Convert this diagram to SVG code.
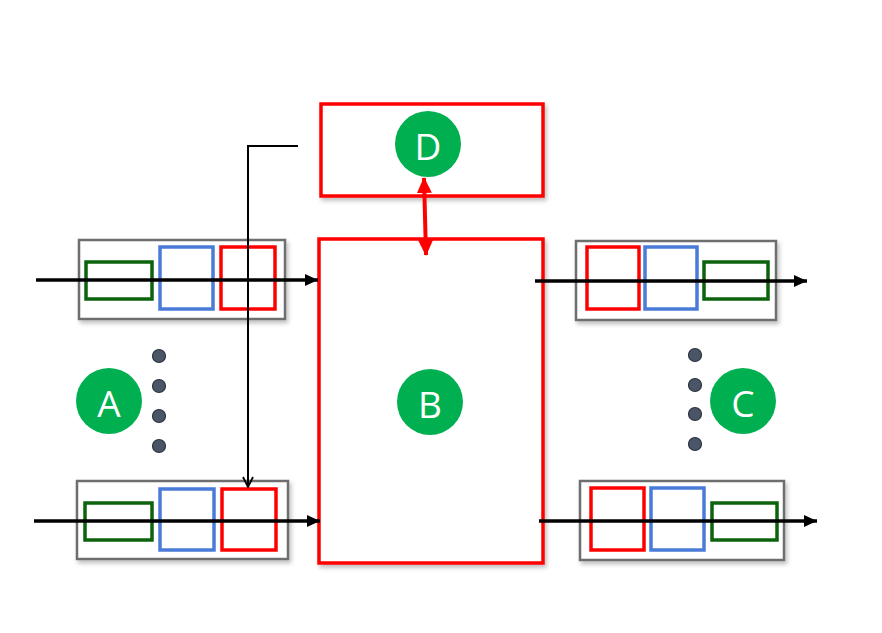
<svg xmlns="http://www.w3.org/2000/svg" width="882" height="633" viewBox="0 0 882 633">
<defs>
<filter id="sh" x="-10%" y="-10%" width="130%" height="140%">
<feDropShadow dx="2" dy="3" stdDeviation="2" flood-color="#000" flood-opacity="0.25"/>
</filter>
<marker id="ah" viewBox="0 0 13 12" refX="13" refY="6" markerWidth="13" markerHeight="12" markerUnits="userSpaceOnUse" orient="auto">
<path d="M0,0 L13,6 L0,12 Z" fill="#000"/>
</marker>
<marker id="ahr" viewBox="0 0 16 15" refX="15" refY="7.5" markerWidth="16" markerHeight="15" markerUnits="userSpaceOnUse" orient="auto-start-reverse">
<path d="M0,0 L16,7.5 L0,15 Z" fill="#ff0000"/>
</marker>
<marker id="ao" viewBox="0 0 12 12" refX="11" refY="6" markerWidth="12" markerHeight="12" markerUnits="userSpaceOnUse" orient="auto">
<path d="M1,1 L11,6 L1,11" fill="none" stroke="#000" stroke-width="1.8"/>
</marker>
</defs>
<style>
.grp{fill:#fff;stroke:#6e6e6e;stroke-width:2.5}
.g{fill:none;stroke:#0a640a;stroke-width:3.5}
.b{fill:none;stroke:#4a7bd9;stroke-width:3.5}
.r{fill:none;stroke:#ff0000;stroke-width:3.5}
.big{fill:#fff;stroke:#ff0000;stroke-width:3.5}
.circ{fill:#00b050}
.lbl{font-family:"Open Sans","Liberation Sans",sans-serif;font-size:37px;fill:#fff;text-anchor:middle;dominant-baseline:central}
.dot{fill:#4a5568;stroke:#2d3340;stroke-width:1.2}
.arr{stroke:#000;stroke-width:3.5;fill:none}
</style>

<g id="queue-in-top" filter="url(#sh)">
<rect class="grp" x="79" y="240" width="206" height="79"/>
<rect class="g" x="86" y="262" width="66" height="37"/>
<rect class="b" x="160" y="247" width="53" height="62"/>
<rect class="r" x="221" y="247" width="54" height="62"/>
</g>
<g id="queue-in-bottom" filter="url(#sh)">
<rect class="grp" x="77" y="481" width="211" height="78"/>
<rect class="g" x="85" y="503" width="67" height="37"/>
<rect class="b" x="160" y="489" width="54" height="61"/>
<rect class="r" x="222" y="489" width="54" height="61"/>
</g>
<g id="queue-out-top" filter="url(#sh)">
<rect class="grp" x="576" y="241" width="200" height="79"/>
<rect class="r" x="587" y="247" width="52" height="62"/>
<rect class="b" x="645" y="247" width="52" height="62"/>
<rect class="g" x="704" y="262" width="64" height="37"/>
</g>
<g id="queue-out-bottom" filter="url(#sh)">
<rect class="grp" x="580" y="481" width="204" height="79"/>
<rect class="r" x="591" y="488" width="53" height="62"/>
<rect class="b" x="651" y="488" width="53" height="62"/>
<rect class="g" x="712" y="503" width="65" height="37"/>
</g>

<g id="node-D">
<rect class="big" x="321" y="104" width="222" height="92" filter="url(#sh)"/>
<circle class="circ" cx="428" cy="144" r="33"/>
<text class="lbl" x="428" y="145">D</text>
</g>
<g id="node-B">
<rect class="big" x="319" y="239" width="224" height="324" filter="url(#sh)"/>
<circle class="circ" cx="430" cy="402" r="33"/>
<text class="lbl" x="430" y="403">B</text>
</g>
<g id="node-A">
<circle class="circ" cx="109" cy="401" r="33"/>
<text class="lbl" x="109" y="402">A</text>
<circle class="dot" cx="159" cy="356" r="6.5"/>
<circle class="dot" cx="159" cy="386" r="6.5"/>
<circle class="dot" cx="159" cy="416" r="6.5"/>
<circle class="dot" cx="159" cy="446" r="6.5"/>
</g>
<g id="node-C">
<circle class="circ" cx="743" cy="401" r="33"/>
<text class="lbl" x="743" y="402">C</text>
<circle class="dot" cx="695" cy="355" r="6.5"/>
<circle class="dot" cx="695" cy="385" r="6.5"/>
<circle class="dot" cx="695" cy="414" r="6.5"/>
<circle class="dot" cx="695" cy="444" r="6.5"/>
</g>

<g id="connectors">
<line class="arr" x1="36" y1="280" x2="318" y2="280" marker-end="url(#ah)"/>
<line class="arr" x1="34" y1="521" x2="320" y2="521" marker-end="url(#ah)"/>
<line class="arr" x1="535" y1="281" x2="807" y2="281" marker-end="url(#ah)"/>
<line class="arr" x1="539" y1="521" x2="817" y2="521" marker-end="url(#ah)"/>
<polyline points="298,146 248,146 248,487" fill="none" stroke="#000" stroke-width="2" marker-end="url(#ao)"/>
<line x1="424" y1="178" x2="426" y2="255" stroke="#ff0000" stroke-width="4" marker-start="url(#ahr)" marker-end="url(#ahr)"/>
</g>
</svg>
